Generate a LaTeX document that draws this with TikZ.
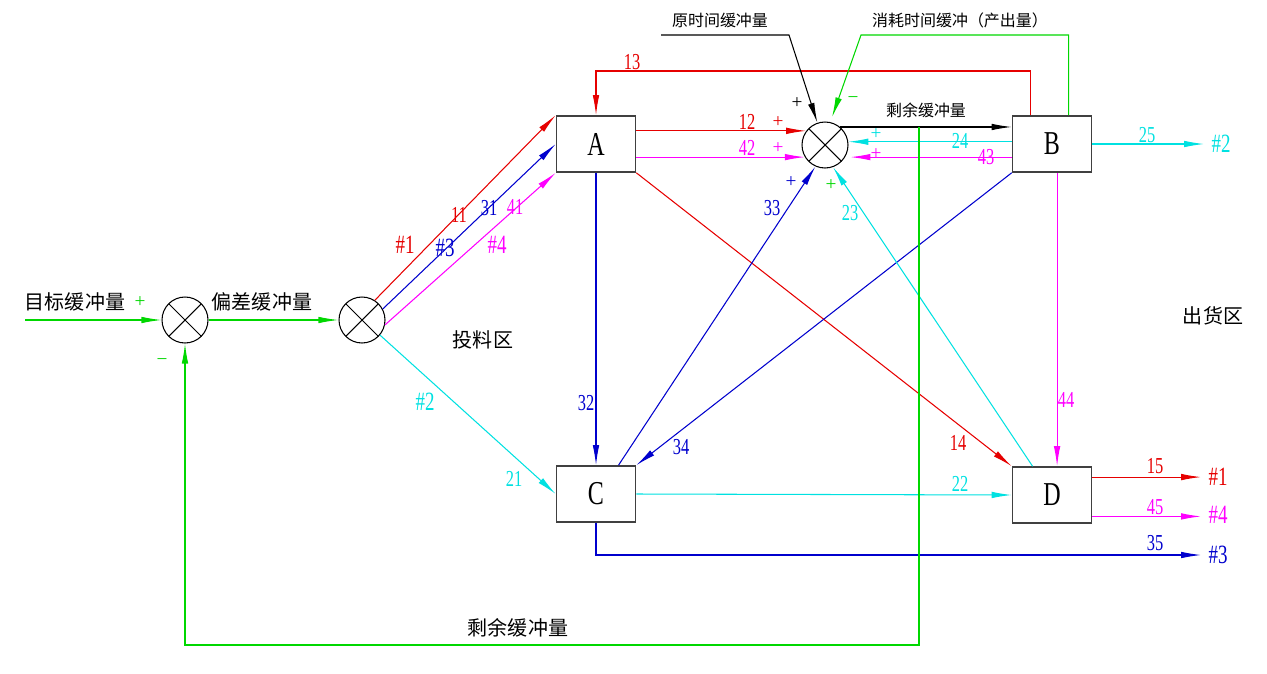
\documentclass[tikz,border=0pt]{standalone}
\usepackage{fontspec}
\setmainfont{Liberation Serif}
\newfontfamily\cjk{Noto Sans CJK SC}
\newfontfamily\numf{Liberation Serif}[FakeStretch=0.72]
\usetikzlibrary{arrows.meta,positioning,calc}
\definecolor{cred}{RGB}{230,0,0}
\definecolor{cblue}{RGB}{0,0,205}
\definecolor{cmag}{RGB}{255,0,255}
\definecolor{ccyan}{RGB}{0,225,225}
\definecolor{cgreen}{RGB}{0,215,0}

\begin{document}
\begin{tikzpicture}[x=0.02cm,y=-0.02cm,
  box/.style={draw=black!75, line width=0.9pt, minimum width=1.58cm, minimum height=1.12cm, inner sep=0pt, font=\numf\fontsize{19}{19}\selectfont},
  sumj/.style={circle, draw, line width=0.6pt, minimum size=0.92cm, inner sep=0pt,
    path picture={\draw[line width=0.6pt] (path picture bounding box.north west) -- (path picture bounding box.south east)
      (path picture bounding box.north east) -- (path picture bounding box.south west);}},
  flow/.style={line width=0.6pt, -{Latex[length=4mm,width=1.3mm]}},
  num/.style={inner sep=0pt, font=\numf\fontsize{13}{13}\selectfont},
  hash/.style={inner sep=0pt, font=\numf\fontsize{15}{15}\selectfont},
  sgn/.style={inner sep=0pt, font=\fontsize{11}{11}\selectfont},
  zh/.style={inner sep=0pt, font=\cjk\fontsize{11.4}{11.4}\selectfont},
  zhs/.style={inner sep=0pt, font=\cjk\fontsize{9.1}{9.1}\selectfont}]
\useasboundingbox (0,0) rectangle (1267,673);

% junctions and stations
\node[sumj] (s1) at (185,320) {};
\node[sumj] (s2) at (362,320) {};
\node[sumj] (s3) at (825,145) {};
\node[box] (A) at (596,144) {A};
\node[box] (B) at (1052,144) {B};
\node[box] (C) at (596,494) {C};
\node[box] (D) at (1052,495) {D};

% outlets
\node[hash, text=ccyan] (o2) at (1221,144) {\#2};
\node[hash, text=cred] (o1) at (1218,477) {\#1};
\node[hash, text=cmag] (o4) at (1218,515) {\#4};
\node[hash, text=cblue] (o3) at (1218,555) {\#3};

\coordinate (in) at (25,320);
\coordinate (k0) at (661,35);
\coordinate (k1) at (789,35);
\coordinate (g1) at (861,35);
\coordinate (top13) at (0,71);
\coordinate (fb) at (919,645);

% connectors
\draw[flow, cgreen] (in) -- (s1);
\draw[flow, cgreen] (s1) -- (s2);
\draw[flow, cred] (s2.57) -- (A.north west);
\draw[flow, cblue] (s2.28) -- (A.west);
\draw[flow, cmag] (s2.-12) -- (A.south west);
\draw[flow, ccyan] (s2.-40) -- (C.west);
\draw[flow, cred] (B.127) |- (A.north |- top13) -- (A.north);
\draw[flow, cred] (A.east |- s3.143) -- (s3.143);
\draw[flow, cmag] (A.east |- s3.-149) -- (s3.-149);
\draw[flow] (s3.50) -- (s3.50 -| B.west);
\draw[flow, ccyan] (B.west |- s3.8) -- (s3.8);
\draw[flow, cmag, shorten >=3pt] (B.west |- s3.-31) -- (s3.-31);
\draw[flow] (k0) -- (k1) -- (s3.109);
\draw[flow, cgreen, shorten >=3pt] (B.60) |- (g1) -- (s3.77);
\draw[flow, cblue] (A.south) -- (C.north);
\draw[flow, cred] (A.south east) -- (D.north west);
\draw[flow, cblue] (C.52) -- (s3.-114);
\draw[flow, cblue] (B.south west) -- (C.north east);
\draw[flow, ccyan] (D.124) -- (s3.-70);
\draw[flow, cmag] (B.-80) -- (D.80);
\draw[flow, ccyan] (C.east) -- (D.west);
\draw[flow, ccyan, shorten >=4pt] (B.east) -- (o2.west);
\draw[flow, cred, shorten >=4pt] (D.24) -- (D.24 -| o1.west);
\draw[flow, cmag, shorten >=4pt] (D.-28) -- (D.-28 -| o4.west);
\draw[flow, cblue, shorten >=4pt] (C.south) |- (o3.west);
\draw[flow, cgreen] (s3.50 -| fb) -- (fb) -| (s1.south);

% texts
\node[zh] (tgt) at (75,302) {目标缓冲量};
\node[zh] (dev) at (262,302) {偏差缓冲量};
\node[zh] (feed) at (483,340) {投料区};
\node[zh] (ship) at (1213,316) {出货区};
\node[zh] (rest) at (518,628) {剩余缓冲量};
\node[zhs] (orig) at (720,20) {原时间缓冲量};
\node[zhs] (used) at (960,20) {消耗时间缓冲（产出量）};
\node[zhs] (rest2) at (926,110) {剩余缓冲量};

% signs
\node[sgn, text=cgreen] (p1) at (140,302) {+};
\node[sgn, text=cgreen] (m1) at (162,362) {−};
\node[sgn] (p2) at (797,103) {+};
\node[sgn, text=cgreen] (m2) at (853,100) {−};
\node[sgn, text=cred] (p3) at (778,122) {+};
\node[sgn, text=cmag] (p4) at (778,148) {+};
\node[sgn, text=ccyan] (p5) at (876,134) {+};
\node[sgn, text=cmag] (p6) at (876,154) {+};
\node[sgn, text=cblue] (p7) at (791,182) {+};
\node[sgn, text=cgreen] (p8) at (831,185) {+};

% flow numbers
\node[num, text=cred] (l11) at (459,215) {11};
\node[num, text=cblue] (l31) at (489,208) {31};
\node[num, text=cmag] (l41) at (515,207) {41};
\node[hash, text=cred] (h1) at (405,245) {\#1};
\node[hash, text=cblue] (h3) at (445,248) {\#3};
\node[hash, text=cmag] (h4) at (497,245) {\#4};
\node[hash, text=ccyan] (h2) at (425,402) {\#2};
\node[num, text=ccyan] (l21) at (514,479) {21};
\node[num, text=cred] (l13) at (632,62) {13};
\node[num, text=cred] (l12) at (747,122) {12};
\node[num, text=cmag] (l42) at (747,148) {42};
\node[num, text=ccyan] (l24) at (960,141) {24};
\node[num, text=cmag] (l43) at (986,157) {43};
\node[num, text=ccyan] (l25) at (1147,135) {25};
\node[num, text=cblue] (l32) at (586,403) {32};
\node[num, text=cblue] (l33) at (772,208) {33};
\node[num, text=ccyan] (l23) at (850,213) {23};
\node[num, text=cblue] (l34) at (681,447) {34};
\node[num, text=cred] (l14) at (958,443) {14};
\node[num, text=cmag] (l44) at (1066,400) {44};
\node[num, text=ccyan] (l22) at (960,484) {22};
\node[num, text=cred] (l15) at (1155,466) {15};
\node[num, text=cmag] (l45) at (1155,507) {45};
\node[num, text=cblue] (l35) at (1155,543) {35};
\end{tikzpicture}
\end{document}
